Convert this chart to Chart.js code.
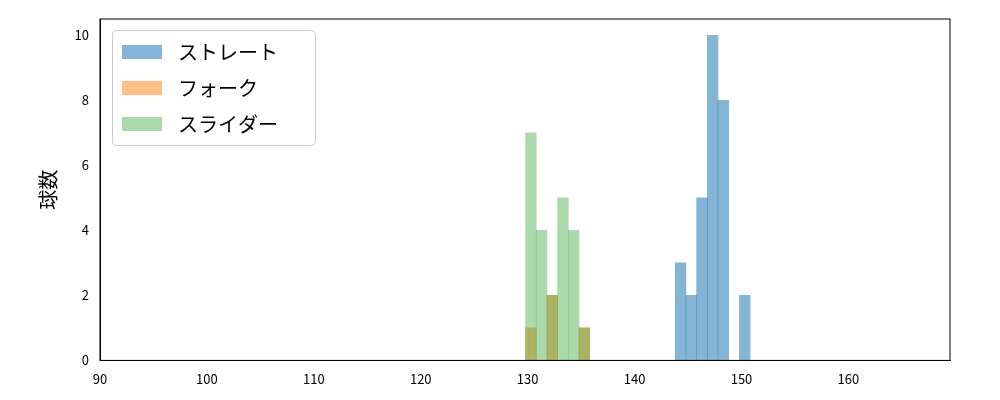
<!DOCTYPE html>
<html><head><meta charset="utf-8">
<script src="https://cdn.jsdelivr.net/npm/chart.js@4/dist/chart.umd.min.js"></script>
<style>body{margin:0;background:#fff}#wrap{width:1000px;height:400px}</style>
</head><body><div id="wrap"><canvas id="c"></canvas></div>
<script>
// bin centres (km/h), bin width ~1
const bins = [130.2,131.2,132.2,133.2,134.2,135.2,136.2,137.2,138.2,139.2,140.2,141.2,142.2,143.2,144.2,145.2,146.2,147.2,148.2,149.2,150.2];
const straight = [0,0,0,0,0,0,0,0,0,0,0,0,0,0,3,2,5,10,8,0,2];
const fork     = [1,0,2,0,0,1,0,0,0,0,0,0,0,0,0,0,0,0,0,0,0];
const slider   = [7,4,2,5,4,1,0,0,0,0,0,0,0,0,0,0,0,0,0,0,0];
const names = ['ストレート','フォーク','スライダー'];
const colors = ['rgba(31,119,180,0.55)','rgba(255,127,14,0.5)','rgba(44,160,44,0.4)'];
const xTicks = [90,100,110,120,130,140,150,160];
const font = "'Noto Sans CJK JP', 'DejaVu Sans', sans-serif";

const pts = arr => bins.map((b, i) => ({x: b + 0.1, y: arr[i]}));
const series = [straight, fork, slider];

const legendBox = {
  id: 'legendBox',
  afterDraw(chart) {
    const ctx = chart.ctx, a = chart.chartArea;
    const x0 = a.left + 12, y0 = a.top + 11;
    ctx.save();
    ctx.fillStyle = 'rgba(255,255,255,0.8)';
    ctx.strokeStyle = '#ccc';
    ctx.lineWidth = 1;
    ctx.beginPath();
    ctx.roundRect(x0 + 0.5, y0 + 0.5, 203, 115, 4);
    ctx.fill(); ctx.stroke();
    ctx.font = '20px ' + font;
    ctx.textBaseline = 'middle';
    names.forEach((n, i) => {
      const y = y0 + 22 + i * 36;
      ctx.fillStyle = colors[i];
      ctx.fillRect(x0 + 10, y - 7, 40, 14);
      ctx.fillStyle = '#000';
      ctx.fillText(n, x0 + 66, y);
    });
    ctx.restore();
  }
};

new Chart(document.getElementById('c'), {
  type: 'bar',
  data: {
    datasets: series.map((s, i) => ({
      label: names[i], data: pts(s), backgroundColor: colors[i], order: 2 - i,
      borderWidth: 0, barPercentage: 1, categoryPercentage: 1, grouped: false
    }))
  },
  options: {
    responsive: true, maintainAspectRatio: false, animation: false,
    layout: {padding: {top: 19, right: 50, bottom: 10, left: 32}},
    plugins: {legend: {display: false}, tooltip: {enabled: false}},
    scales: {
      x: {
        type: 'linear', min: 90, max: 169.5, offset: false,
        grid: {display: false, drawTicks: true},
        border: {color: '#000'},
        afterBuildTicks: ax => { ax.ticks = xTicks.map(v => ({value: v})); },
        ticks: {color: '#000', font: {size: 13, family: font}, maxRotation: 0}
      },
      y: {
        min: 0, max: 10.5,
        afterFit: ax => { ax.width = 68; },
        grid: {display: false},
        border: {color: '#000'},
        afterBuildTicks: ax => { ax.ticks = [0,2,4,6,8,10].map(v => ({value: v})); },
        ticks: {color: '#000', font: {size: 13, family: font}},
        title: {display: true, text: '球数', color: '#000', font: {size: 20, family: font}}
      }
    }
  },
  plugins: [legendBox, {
    id: 'frame',
    afterDraw(chart) {
      const ctx = chart.ctx, a = chart.chartArea;
      ctx.save(); ctx.strokeStyle = '#000'; ctx.lineWidth = 1;
      ctx.strokeRect(a.left, a.top, a.right - a.left, a.bottom - a.top);
      ctx.restore();
    }
  }]
});
</script></body></html>
